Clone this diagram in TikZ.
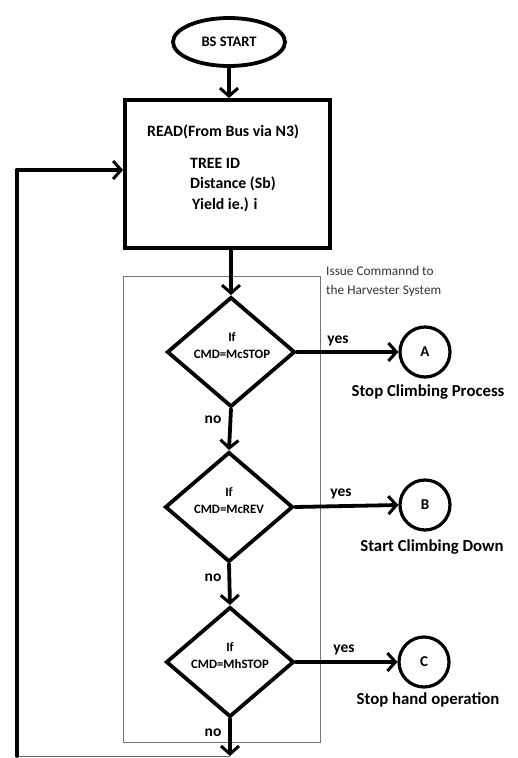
\documentclass[tikz,border=0pt]{standalone}
\usepackage{fontspec}
\setmainfont{Carlito}
\usetikzlibrary{arrows.meta,shapes.geometric}
\begin{document}
\begin{tikzpicture}[x=1pt,y=-1pt,
  thickline/.style={line width=3.8pt, line cap=round},
  arr/.style={thickline, -{Straight Barb[length=8pt,width=18pt,line width=3pt]}},
  dia/.style={diamond, draw, line width=3.8pt, minimum width=128pt, minimum height=110pt, inner sep=0pt},
  circ/.style={circle, draw, line width=3.2pt, minimum size=50pt, inner sep=0pt, font=\bfseries\fontsize{15}{16}\selectfont},
  dtext/.style={font=\bfseries\fontsize{12.8}{17}\selectfont, align=center, inner sep=0pt},
  lbl/.style={font=\bfseries\fontsize{16.8}{18}\selectfont, inner sep=0pt},
  yn/.style={font=\bfseries\fontsize{15.5}{16}\selectfont, inner sep=0pt},
  rtext/.style={font=\bfseries\fontsize{15.8}{17}\selectfont, anchor=west, inner sep=0pt}
]
\useasboundingbox (0,0) rectangle (518,758);
% start
\node[ellipse, draw, line width=3.8pt, minimum width=112pt, minimum height=48pt, inner sep=0pt, font=\bfseries\fontsize{14.5}{16}\selectfont] (start) at (229,42) {BS START};
% read box
\node[draw, line width=3.8pt, minimum width=205pt, minimum height=148pt, inner sep=0pt] (read) at (227.5,174) {};
\node[rtext] (r1) at (147,132) {READ(From Bus via N3)};
\node[rtext] (r2) at (190,163) {TREE ID};
\node[rtext] (r3) at (190,184) {Distance (Sb)};
\node[rtext] (r4) at (192,205) {Yield ie.) i};
% group rectangle
\node[draw=black!55, line width=0.8pt, minimum width=197pt, minimum height=466pt, inner sep=0pt] (grp) at (221.5,509) {};
\node[anchor=west, align=left, inner sep=0pt, text=black!80, font=\fontsize{13.3}{19}\selectfont] (note) at (326,281) {Issue Commannd to\\the Harvester System};
% diamonds
\node[dia] (d1) at (231,352) {};
\node[dtext] (t1) at (232,346) {If\\CMD=McSTOP};
\node[dia] (d2) at (229,507) {};
\node[dtext] (t2) at (229,501) {If\\CMD=McREV};
\node[dia] (d3) at (230,662) {};
\node[dtext] (t3) at (230,656) {If\\CMD=MhSTOP};
% circles
\node[circ] (A) at (425,352) {A};
\node[circ] (B) at (425,505) {B};
\node[circ] (C) at (424,662) {C};
\node[lbl] (la) at (428,392) {Stop Climbing Process};
\node[lbl] (lb) at (432,547) {Start Climbing Down};
\node[lbl] (lc) at (428,700) {Stop hand operation};
% yes / no labels
\node[yn] (y1) at (338,341) {yes};
\node[yn] (y2) at (341,494) {yes};
\node[yn] (y3) at (344,650) {yes};
\node[yn] (n1) at (213,420) {no};
\node[yn] (n2) at (213,578) {no};
\node[yn] (n3) at (213,733) {no};
% connectors
\draw[arr] (start.south) -- (read.north -| start.south);
\draw[arr] (read.south -| d1.north) -- (d1.north);
\draw[arr] (d1.south) -- (d2.north);
\draw[arr] (d2.south) -- (d3.north);
\coordinate (bot) at (230,756);
\coordinate (lb1) at (17,756);
\coordinate (lt) at (17,170);
\draw[arr] (d3.south) -- (bot);
\draw[black!60, line width=1pt] (bot) -- (lb1);
\draw[thickline] (lb1) -- (lt);
\draw[arr] (lt) -- (lt -| read.west);
\draw[arr] (d1.east) -- (A.west);
\draw[arr] (d2.east) -- (B.west);
\draw[arr] (d3.east) -- (C.west);
\end{tikzpicture}
\end{document}
